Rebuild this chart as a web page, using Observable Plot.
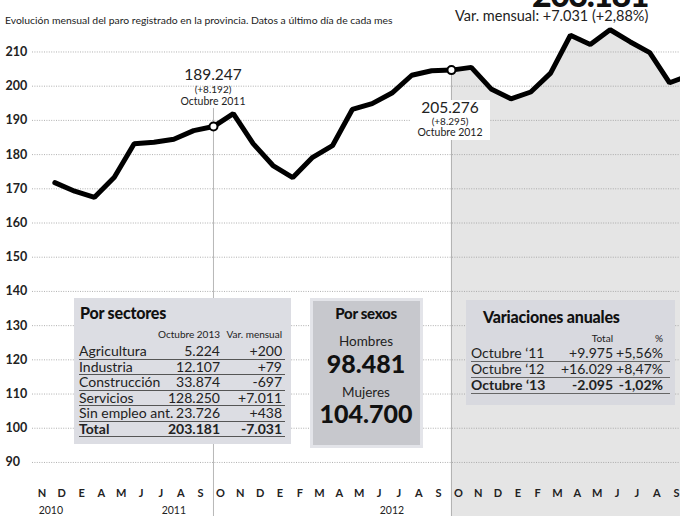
<!DOCTYPE html>
<html><head><meta charset="utf-8">
<script src="https://cdn.jsdelivr.net/npm/d3@7"></script>
<script src="https://cdn.jsdelivr.net/npm/@observablehq/plot@0.6"></script>
<style>
body{margin:0;background:#fff}
#wrap{position:relative;width:680px;height:516px;overflow:hidden;font-family:Lato,'Liberation Sans',sans-serif}
#wrap svg{position:absolute;left:0;top:0}
.box{position:absolute}
</style></head>
<body><div id="wrap"></div>
<script>
// ---- data ----
const mes = ["N","D","E","A","M","J","J","A","S","O","N","D","E","F","M","A","M","J","J","A","S","O","N","D","E","F","M","A","M","J","J","A","S"];
const anios = ["2010","2011","2012"];
const aniosPos = [0.8, 7, 18];
// paro registrado (miles), desde diciembre 2010 (índice 1) hasta octubre 2013
const paro = [171.8,169.3,167.5,173.4,183.2,183.6,184.5,187.0,188.2,192.0,183.2,176.8,173.3,179.2,182.6,193.2,194.9,198.0,203.2,204.5,204.7,205.5,199.2,196.3,198.3,203.8,214.9,212.2,216.5,213.0,209.8,201.0,203.2];
const yTicks = [90,100,110,120,130,140,150,160,170,180,190,200,210];
const idxOct11 = 9, idxOct12 = 21;

const sectores = ["Agricultura","Industria","Construcción","Servicios","Sin empleo ant.","Total"];
const sectorValor = ["5.224","12.107","33.874","128.250","23.726","203.181"];
const sectorVar = ["+200","+79","-697","+7.011","+438","-7.031"];
const periodos = ["Octubre ‘11","Octubre ‘12","Octubre ‘13"];
const anualTotal = ["+9.975","+16.029","-2.095"];
const anualPct = ["+5,56%","+8,47%","-1,02%"];
const totalActual = "203.181";

const data = paro.map((v,i)=>({t:i+1, v}));
const yMin = 74.2, yMax = 225.05;
const wrap = document.getElementById("wrap");
const F = "Lato,'Liberation Sans',sans-serif";

const chart = Plot.plot({
  width:680, height:516, marginTop:0, marginBottom:0, marginRight:0, marginLeft:32,
  x:{domain:[-0.126, 32.55], axis:null},
  y:{domain:[yMin, yMax], axis:null},
  style:{background:"transparent", fontFamily:F, color:"#222"},
  marks:[
    Plot.areaY(data.filter(d=>d.t>=idxOct12), {x:"t", y1:yMin, y2:"v", fill:"#e5e5e5", clip:true}),
    Plot.ruleY(yTicks, {stroke:"#9c9c9c", strokeWidth:0.8, strokeDasharray:"1,1.4"}),
    Plot.text(yTicks, {y:d=>d, frameAnchor:"left", dx:-27, textAnchor:"start", text:d=>String(d), fontSize:12.5, fontWeight:"bold", fill:"#222"}),
    Plot.ruleX([idxOct11], {y1:yMin, y2:193.5, stroke:"#b8b8b8", strokeWidth:1}),
    Plot.ruleX(data.filter(d=>d.t===idxOct12), {x:"t", y1:yMin, y2:"v", stroke:"#b0b0b0", strokeWidth:1}),
    Plot.line(data, {x:"t", y:"v", stroke:"#000", strokeWidth:5, strokeLinejoin:"miter", clip:true}),
    Plot.dot(data.filter(d=>d.t===idxOct11||d.t===idxOct12), {x:"t", y:"v", r:4, fill:"#fff", stroke:"#000", strokeWidth:2}),
    Plot.text(mes, {x:(d,i)=>i+0.35, y:80.95, text:d=>d, fontSize:11, fontWeight:"bold", fill:"#222"}),
    Plot.text(anios, {x:(d,i)=>aniosPos[i], y:76.0, text:d=>d, fontSize:10.5, fill:"#222"})
  ]
});
wrap.appendChild(chart);

function lbl(text, x, y, o={}) {
  const d = document.createElement("div");
  d.textContent = text;
  const a = o.anchor||"start";
  const tx = a==="start"?0:a==="middle"?-50:-100;
  d.style.cssText = `position:absolute;left:${x}px;top:${y}px;font-family:${o.family||F};font-size:${o.size||12}px;font-weight:${o.weight||400};color:${o.color||"#222"};white-space:nowrap;line-height:1;letter-spacing:${o.ls||0}px;transform:translate(${tx}%,-50%)`;
  wrap.appendChild(d);
  return d;
}
function box(x,y,w,h,bg,extra="") {
  const d = document.createElement("div");
  d.className="box";
  d.style.cssText = `position:absolute;left:${x}px;top:${y}px;width:${w}px;height:${h}px;background:${bg};${extra}`;
  wrap.appendChild(d);
  return d;
}
function hline(x1,x2,y,c="#555",w=1){ box(x1,y,x2-x1,w,c); }

// big headline number (mostly cut off by the top edge, as in the reference)
const big = document.createElement("div");
big.textContent = totalActual;
big.style.cssText = `position:absolute;right:32px;top:-23px;font-family:${F};font-size:34px;font-weight:900;line-height:34px;letter-spacing:-1.5px;color:#111;white-space:nowrap`;
wrap.appendChild(big);

// header texts
lbl("Evolución mensual del paro registrado en la provincia. Datos a último día de cada mes", 5, 20, {size:10.4});
lbl("Var. mensual: +7.031 (+2,88%)", 455, 16, {size:14.5});

// annotations
lbl("189.247", 213, 75, {size:15.5, anchor:"middle"});
lbl("(+8.192)", 213, 88.5, {size:10, anchor:"middle"});
lbl("Octubre 2011", 213, 100.5, {size:10.5, anchor:"middle"});
box(410,100,80,40,"#fff");
lbl("205.276", 450, 108, {size:15.5, anchor:"middle"});
lbl("(+8.295)", 450, 120.5, {size:10, anchor:"middle"});
lbl("Octubre 2012", 450, 131.5, {size:10.5, anchor:"middle"});

// Por sectores
box(74,298,217,146,"#dcdde3");
lbl("Por sectores", 80, 313, {size:16, weight:900, color:"#111", ls:-0.2});
lbl("Octubre 2013", 220, 334, {size:10, anchor:"end"});
lbl("Var. mensual", 282, 334, {size:10, anchor:"end"});
sectores.forEach((s,i)=>{
  const y = 351 + i*15.5;
  const w = i===sectores.length-1 ? 700 : 400;
  lbl(s, 79, y, {size:14, weight:w});
  lbl(sectorValor[i], 220, y, {size:14, weight:w, anchor:"end"});
  lbl(sectorVar[i], 282, y, {size:14, weight:w, anchor:"end"});
  hline(79, 285, y+7.5, "#555", 1);
});

// Por sexos
box(310,298,113,150,"#c7c8cd","box-sizing:border-box;border:3px solid #e3e4e9");
lbl("Por sexos", 366, 313, {size:15, weight:900, color:"#111", anchor:"middle", ls:-0.3});
lbl("Hombres", 366, 342, {size:13.5, anchor:"middle"});
lbl("98.481", 366, 363, {size:25, weight:900, color:"#111", anchor:"middle"});
lbl("Mujeres", 366, 393, {size:13.5, anchor:"middle"});
lbl("104.700", 366, 413, {size:25, weight:900, color:"#111", anchor:"middle"});

// Variaciones anuales
box(466,300,209,105,"#d8d9df");
lbl("Variaciones anuales", 483, 317, {size:16, weight:900, color:"#111", ls:-0.2});
lbl("Total", 613, 338, {size:10, anchor:"end"});
lbl("%", 663, 338, {size:10, anchor:"end"});
periodos.forEach((p,i)=>{
  const y = 353 + i*16;
  const w = i===periodos.length-1 ? 700 : 400;
  lbl(p, 471, y, {size:14, weight:w});
  lbl(anualTotal[i], 613, y, {size:14, weight:w, anchor:"end"});
  lbl(anualPct[i], 663, y, {size:14, weight:w, anchor:"end"});
  hline(471, 670, y+7.5, "#666", i===0?1.5:1);
});
</script></body></html>
